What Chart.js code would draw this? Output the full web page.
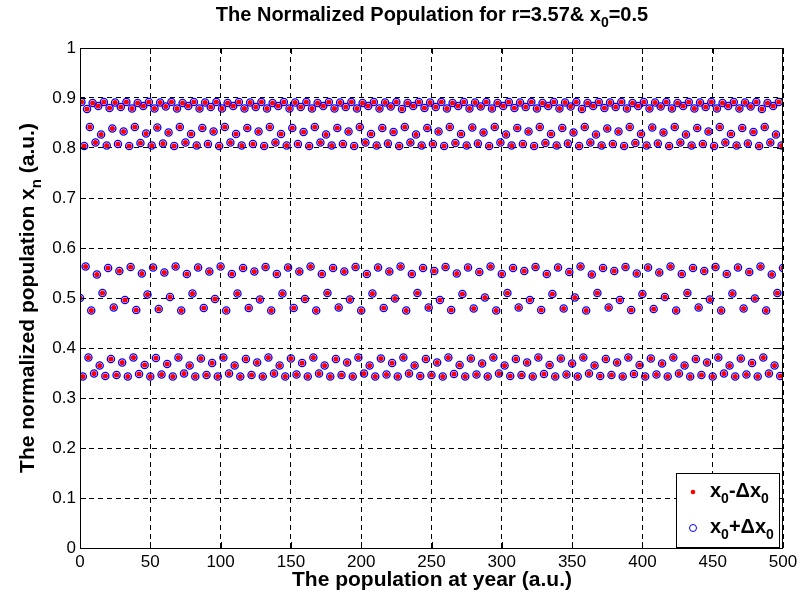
<!DOCTYPE html>
<html>
<head>
<meta charset="utf-8">
<title>The Normalized Population</title>
<script src="https://cdn.jsdelivr.net/npm/chart.js@4.4.0/dist/chart.umd.min.js"></script>
<style>
  body { margin: 0; background: #fff; }
  #wrap { width: 804px; height: 601px; }
</style>
</head>
<body>
<div id="wrap"><canvas id="chart" width="804" height="601"></canvas></div>
<script>
// normalized population, one value per year, years 0..500
const popMinus = [
  0.500, 0.892, 0.343, 0.804, 0.563, 0.878, 0.381, 0.842, 0.475, 0.890, 0.349, 0.811, 0.547, 0.884, 0.365, 0.827,
  0.510, 0.892, 0.344, 0.805, 0.560, 0.880, 0.378, 0.839, 0.481, 0.891, 0.346, 0.808, 0.554, 0.882, 0.371, 0.833,
  0.496, 0.892, 0.343, 0.804, 0.562, 0.879, 0.381, 0.842, 0.476, 0.890, 0.348, 0.810, 0.549, 0.884, 0.366, 0.829,
  0.507, 0.892, 0.343, 0.805, 0.561, 0.879, 0.380, 0.841, 0.478, 0.891, 0.347, 0.809, 0.551, 0.883, 0.368, 0.831,
  0.502, 0.892, 0.343, 0.804, 0.563, 0.879, 0.381, 0.842, 0.475, 0.890, 0.349, 0.811, 0.548, 0.884, 0.365, 0.828,
  0.509, 0.892, 0.343, 0.805, 0.561, 0.879, 0.379, 0.840, 0.480, 0.891, 0.346, 0.808, 0.553, 0.882, 0.370, 0.833,
  0.498, 0.892, 0.343, 0.804, 0.563, 0.879, 0.381, 0.842, 0.475, 0.890, 0.349, 0.811, 0.548, 0.884, 0.365, 0.828,
  0.509, 0.892, 0.343, 0.805, 0.560, 0.879, 0.378, 0.840, 0.480, 0.891, 0.346, 0.808, 0.553, 0.882, 0.371, 0.833,
  0.497, 0.892, 0.343, 0.804, 0.562, 0.879, 0.381, 0.842, 0.475, 0.890, 0.349, 0.811, 0.548, 0.884, 0.365, 0.828,
  0.509, 0.892, 0.343, 0.805, 0.561, 0.879, 0.379, 0.840, 0.480, 0.891, 0.347, 0.808, 0.553, 0.882, 0.370, 0.832,
  0.498, 0.892, 0.343, 0.804, 0.563, 0.879, 0.381, 0.842, 0.475, 0.890, 0.349, 0.811, 0.548, 0.884, 0.365, 0.827,
  0.510, 0.892, 0.343, 0.805, 0.560, 0.879, 0.378, 0.840, 0.481, 0.891, 0.346, 0.808, 0.553, 0.882, 0.371, 0.833,
  0.497, 0.892, 0.343, 0.804, 0.562, 0.879, 0.381, 0.842, 0.475, 0.890, 0.349, 0.811, 0.548, 0.884, 0.365, 0.828,
  0.509, 0.892, 0.343, 0.805, 0.561, 0.879, 0.379, 0.840, 0.480, 0.891, 0.347, 0.809, 0.553, 0.883, 0.370, 0.832,
  0.499, 0.892, 0.343, 0.804, 0.563, 0.878, 0.381, 0.842, 0.475, 0.890, 0.349, 0.811, 0.548, 0.884, 0.365, 0.827,
  0.510, 0.892, 0.344, 0.805, 0.560, 0.880, 0.378, 0.840, 0.481, 0.891, 0.346, 0.808, 0.554, 0.882, 0.371, 0.833,
  0.496, 0.892, 0.343, 0.804, 0.562, 0.879, 0.381, 0.842, 0.476, 0.890, 0.348, 0.810, 0.549, 0.884, 0.366, 0.828,
  0.508, 0.892, 0.343, 0.805, 0.561, 0.879, 0.379, 0.841, 0.479, 0.891, 0.347, 0.809, 0.552, 0.883, 0.369, 0.831,
  0.501, 0.892, 0.343, 0.804, 0.563, 0.879, 0.381, 0.842, 0.475, 0.890, 0.349, 0.811, 0.548, 0.884, 0.365, 0.827,
  0.510, 0.892, 0.344, 0.805, 0.560, 0.880, 0.378, 0.840, 0.481, 0.891, 0.346, 0.808, 0.554, 0.882, 0.371, 0.833,
  0.496, 0.892, 0.343, 0.804, 0.562, 0.879, 0.381, 0.842, 0.476, 0.890, 0.348, 0.810, 0.548, 0.884, 0.366, 0.828,
  0.508, 0.892, 0.343, 0.805, 0.561, 0.879, 0.379, 0.840, 0.479, 0.891, 0.347, 0.809, 0.552, 0.883, 0.369, 0.831,
  0.501, 0.892, 0.343, 0.804, 0.563, 0.878, 0.381, 0.842, 0.475, 0.890, 0.349, 0.811, 0.547, 0.884, 0.365, 0.827,
  0.510, 0.892, 0.344, 0.805, 0.560, 0.880, 0.378, 0.839, 0.481, 0.891, 0.346, 0.808, 0.554, 0.882, 0.371, 0.833,
  0.496, 0.892, 0.343, 0.804, 0.562, 0.879, 0.381, 0.842, 0.476, 0.890, 0.348, 0.810, 0.549, 0.884, 0.366, 0.828,
  0.508, 0.892, 0.343, 0.805, 0.561, 0.879, 0.379, 0.841, 0.478, 0.891, 0.347, 0.809, 0.551, 0.883, 0.369, 0.831,
  0.502, 0.892, 0.343, 0.804, 0.563, 0.879, 0.381, 0.842, 0.475, 0.890, 0.349, 0.811, 0.548, 0.884, 0.365, 0.827,
  0.510, 0.892, 0.343, 0.805, 0.560, 0.879, 0.378, 0.840, 0.481, 0.891, 0.346, 0.808, 0.554, 0.882, 0.371, 0.833,
  0.497, 0.892, 0.343, 0.804, 0.562, 0.879, 0.381, 0.842, 0.475, 0.890, 0.349, 0.811, 0.548, 0.884, 0.365, 0.828,
  0.509, 0.892, 0.343, 0.805, 0.561, 0.879, 0.379, 0.840, 0.479, 0.891, 0.347, 0.809, 0.552, 0.883, 0.370, 0.832,
  0.499, 0.892, 0.343, 0.804, 0.563, 0.878, 0.381, 0.842, 0.475, 0.890, 0.349, 0.811, 0.547, 0.884, 0.365, 0.827,
  0.510, 0.892, 0.344, 0.805, 0.560
];
// the x0+dx0 run lands on the same spots as the x0-dx0 run everywhere in the picture
const popPlus = popMinus.slice();

const xTicks = [0, 50, 100, 150, 200, 250, 300, 350, 400, 450, 500];
const yTicks = [0, 0.1, 0.2, 0.3, 0.4, 0.5, 0.6, 0.7, 0.8, 0.9, 1];

const FONT = '"Liberation Sans", Arial, Helvetica, sans-serif';

// draws text with subscripts, parts are [text, isSub]
function richText(ctx, parts, x, y, size, align) {
  const fontFor = sub => `bold ${sub ? Math.round(size * 0.72) : size}px ${FONT}`;
  let width = 0;
  parts.forEach(([t, sub]) => { ctx.font = fontFor(sub); width += ctx.measureText(t).width; });
  let cx = align === 'left' ? x : x - width / 2;
  ctx.textAlign = 'left';
  ctx.textBaseline = 'alphabetic';
  parts.forEach(([t, sub]) => {
    ctx.font = fontFor(sub);
    ctx.fillText(t, cx, sub ? y + size * 0.32 : y);
    cx += ctx.measureText(t).width;
  });
}

// box, inward ticks, titles and legend, drawn the way the matlab figure has them
const figureDecor = {
  id: 'figureDecor',
  afterDraw(chart) {
    const { ctx, chartArea: a, scales } = chart;
    ctx.save();
    ctx.strokeStyle = '#000';
    ctx.lineWidth = 1;
    ctx.strokeRect(a.left + 0.5, a.top + 0.5, a.right - a.left - 1, a.bottom - a.top);

    ctx.beginPath();
    xTicks.forEach(v => {
      const px = Math.round(scales.x.getPixelForValue(v)) + 0.5;
      ctx.moveTo(px, a.bottom); ctx.lineTo(px, a.bottom - 6);
      ctx.moveTo(px, a.top); ctx.lineTo(px, a.top + 6);
    });
    yTicks.forEach(v => {
      const py = Math.round(scales.y.getPixelForValue(v)) + 0.5;
      ctx.moveTo(a.left, py); ctx.lineTo(a.left + 6, py);
      ctx.moveTo(a.right, py); ctx.lineTo(a.right - 6, py);
    });
    ctx.stroke();

    ctx.fillStyle = '#000';
    richText(ctx, [['The Normalized Population for r=3.57& x', false], ['0', true], ['=0.5', false]], 432, 21, 20);
    richText(ctx, [['The population at year (a.u.)', false]], 432, 586, 21);

    ctx.save();
    ctx.translate(34, 298);
    ctx.rotate(-Math.PI / 2);
    richText(ctx, [['The normalized population x', false], ['n', true], [' (a.u.)', false]], 0, 0, 21);
    ctx.restore();

    // legend
    const lx = 676, ly = 473, lw = 103, lh = 74;
    ctx.fillStyle = '#fff';
    ctx.fillRect(lx, ly, lw, lh);
    ctx.strokeRect(lx + 0.5, ly + 0.5, lw, lh);

    ctx.fillStyle = '#ff0000';
    ctx.beginPath();
    ctx.arc(693, 492, 2.3, 0, Math.PI * 2);
    ctx.fill();
    ctx.strokeStyle = '#0000ff';
    ctx.beginPath();
    ctx.arc(693, 528, 3.5, 0, Math.PI * 2);
    ctx.stroke();

    ctx.fillStyle = '#000';
    richText(ctx, [['x', false], ['0', true], ['-\u0394x', false], ['0', true]], 710, 497, 20, 'left');
    richText(ctx, [['x', false], ['0', true], ['+\u0394x', false], ['0', true]], 710, 533, 20, 'left');
    ctx.restore();
  }
};

const toPoints = arr => arr.map((v, year) => ({ x: year, y: v }));

new Chart(document.getElementById('chart'), {
  type: 'scatter',
  data: {
    datasets: [
      {
        label: 'x0-\u0394x0',
        data: toPoints(popMinus),
        pointRadius: 2.6,
        pointBackgroundColor: '#ff0000',
        pointBorderWidth: 0,
        showLine: false
      },
      {
        label: 'x0+\u0394x0',
        data: toPoints(popPlus),
        pointRadius: 3.6,
        pointBackgroundColor: 'rgba(0,0,0,0)',
        pointBorderColor: '#0000ff',
        pointBorderWidth: 1.3,
        showLine: false
      }
    ]
  },
  options: {
    responsive: false,
    animation: false,
    events: [],
    layout: { padding: { top: 48, right: 21, left: 0, bottom: 0 } },
    plugins: {
      legend: { display: false },
      title: { display: false },
      tooltip: { enabled: false }
    },
    scales: {
      x: {
        type: 'linear',
        min: 0,
        max: 500,
        afterBuildTicks: s => { s.ticks = xTicks.map(v => ({ value: v })); },
        afterFit: s => { s.height = 53; },
        grid: { color: '#000', drawTicks: false },
        border: { display: false, dash: [5, 4] },
        ticks: {
          padding: 4,
          color: '#000',
          font: { family: FONT, size: 17 },
          maxRotation: 0,
          callback: v => String(v)
        }
      },
      y: {
        min: 0,
        max: 1,
        afterBuildTicks: s => { s.ticks = yTicks.map(v => ({ value: v })); },
        afterFit: s => { s.width = 80; },
        grid: { color: '#000', drawTicks: false },
        border: { display: false, dash: [5, 4] },
        ticks: {
          padding: 4,
          color: '#000',
          font: { family: FONT, size: 17 },
          callback: v => String(Math.round(v * 10) / 10)
        }
      }
    }
  },
  plugins: [figureDecor]
});
</script>
</body>
</html>
